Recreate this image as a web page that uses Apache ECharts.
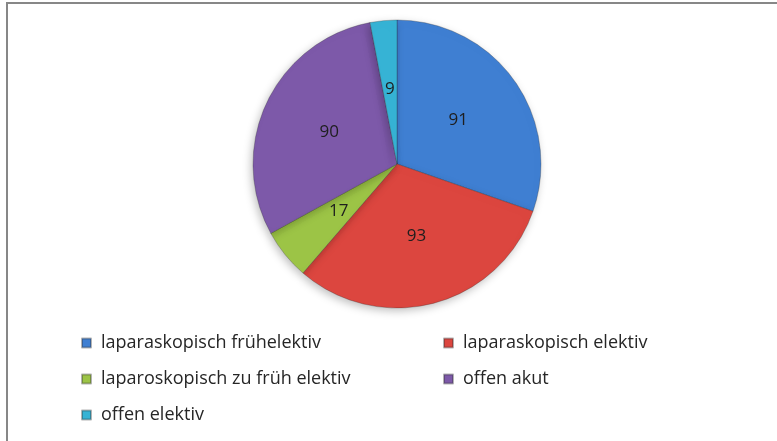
<!DOCTYPE html>
<html>
<head>
<meta charset="utf-8">
<script src="https://cdn.jsdelivr.net/npm/echarts@6/dist/echarts.min.js"></script>
<style>
  html, body { margin: 0; padding: 0; background: #fff; }
  #chart { width: 777px; height: 441px; }
</style>
</head>
<body>
<div id="chart"></div>
<script>
const categories = [
  'laparaskopisch frühelektiv',
  'laparaskopisch elektiv',
  'laparoskopisch zu früh elektiv',
  'offen akut',
  'offen elektiv',
]
const values = [91, 93, 17, 90, 9]
const colors = ['#3f7fd2', '#dc463f', '#9cc446', '#7d59a9', '#36b3d5']

const leftColumn = [categories[0], categories[2], categories[4]]
const rightColumn = [categories[1], categories[3]]

const chart = echarts.init(document.getElementById('chart'))

const legendText = {
  fontFamily: 'Open Sans',
  fontSize: 18,
  lineHeight: 20,
  padding: [0, 0, 0, 5],
  color: '#262626',
}

chart.setOption({
  animation: false,
  color: colors,
  graphic: [
    {
      type: 'rect',
      shape: { x: 7, y: 3, width: 800, height: 500 },
      style: { fill: 'none', stroke: '#878787', lineWidth: 2 },
      silent: true,
    },
  ],
  legend: [
    {
      orient: 'vertical',
      left: 76,
      top: 328,
      itemWidth: 9,
      itemHeight: 9,
      itemGap: 16,
      icon: 'rect',
      textStyle: legendText,
      data: leftColumn,
    },
    {
      orient: 'vertical',
      left: 438,
      top: 328,
      itemWidth: 9,
      itemHeight: 9,
      itemGap: 16,
      icon: 'rect',
      textStyle: legendText,
      data: rightColumn,
    },
  ],
  series: [
    {
      type: 'pie',
      center: [397, 164],
      radius: 144,
      startAngle: 90,
      clockwise: true,
      itemStyle: {
        borderColor: 'rgba(40,40,40,0.35)',
        borderWidth: 0.8,
        shadowBlur: 8,
        shadowOffsetX: -2,
        shadowOffsetY: 3,
        shadowColor: 'rgba(0,0,0,0.25)',
      },
      label: {
        position: 'inside',
        formatter: '{c}',
        fontFamily: 'Open Sans',
        fontSize: 17,
        color: '#1e1e1e',
      },
      labelLine: { show: false },
      emphasis: { disabled: true },
      data: categories.map((name, i) => ({ name: name, value: values[i] })),
    },
  ],
})
</script>
</body>
</html>
